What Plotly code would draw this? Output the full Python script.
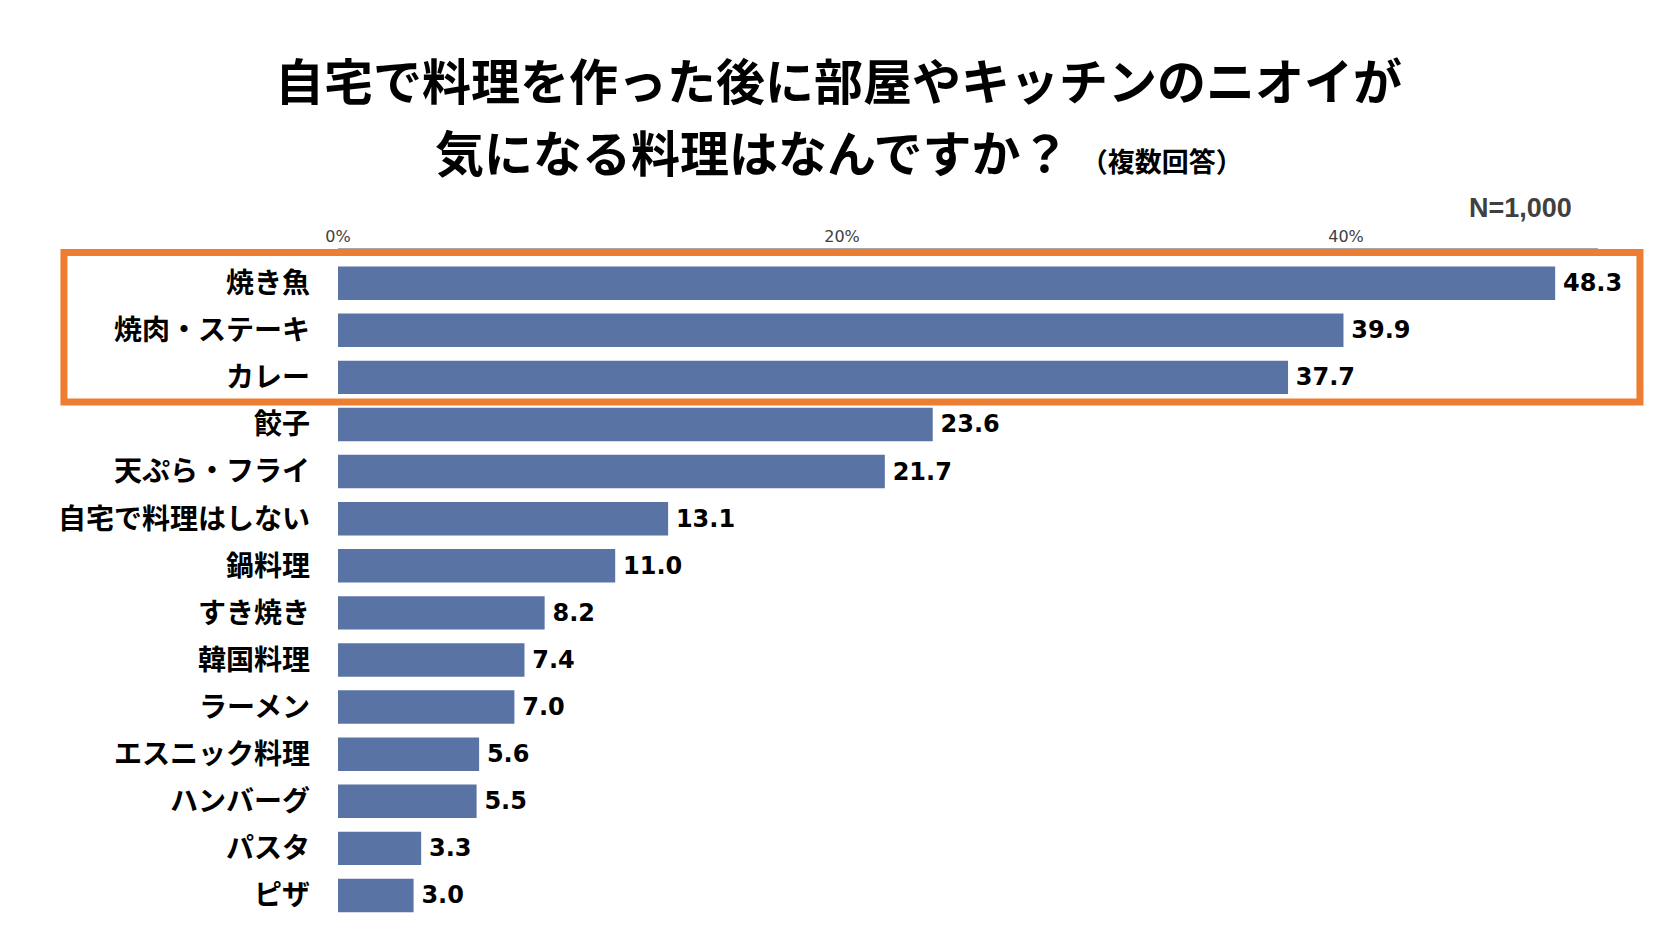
import plotly.graph_objects as go

# survey data (N=1,000, multiple answers allowed)
categories = [
    "焼き魚", "焼肉・ステーキ", "カレー", "餃子", "天ぷら・フライ",
    "自宅で料理はしない", "鍋料理", "すき焼き", "韓国料理", "ラーメン",
    "エスニック料理", "ハンバーグ", "パスタ", "ピザ",
]
values = [48.3, 39.9, 37.7, 23.6, 21.7, 13.1, 11.0, 8.2, 7.4, 7.0, 5.6, 5.5, 3.3, 3.0]
tick_vals = [0, 20, 40]
tick_text = ["0%", "20%", "40%"]

JP = "Noto Sans CJK JP"
BAR = "#5A73A5"
ORANGE = "#ED7D31"

fig = go.Figure(go.Bar(
    x=values, y=categories, orientation="h",
    marker=dict(color=BAR, line=dict(width=0)),
    text=["\u2009" + f"{v:.1f}" for v in values],
    textposition="outside", cliponaxis=False, constraintext="none",
    textfont=dict(family="DejaVu Sans", size=24, color="#000000", weight="bold"),
    hoverinfo="skip",
))

fig.update_layout(
    width=1655, height=929,
    margin=dict(l=330, r=65, t=241, b=18),
    paper_bgcolor="white", plot_bgcolor="white",
    bargap=0.29, showlegend=False,
    xaxis=dict(
        side="top", range=[0, 50], tickvals=tick_vals, ticktext=tick_text,
        showgrid=False, zeroline=False, showline=True, linecolor="#A6A6A6", linewidth=1,
        ticks="inside", ticklen=5, tickcolor="#A6A6A6", ticklabelstandoff=0,
        tickfont=dict(family="DejaVu Sans", size=16, color="#404040"),
    ),
    yaxis=dict(
        autorange="reversed", showgrid=False, zeroline=False, showline=False,
        ticks="", ticklabelstandoff=27,
        tickfont=dict(family=JP, size=28, color="#000000", weight="bold"),
    ),
)

# highlight box round the top three answers
fig.add_shape(
    type="rect", xref="paper", yref="y",
    x0=-0.2175, x1=1.0333, y0=-0.652, y1=2.52,
    line=dict(color=ORANGE, width=7), fillcolor="rgba(0,0,0,0)", layer="above",
)

# title in two separate lines
fig.add_annotation(
    text="<b>自宅で料理を作った後に部屋やキッチンのニオイが</b>",
    xref="paper", yref="paper", x=0.3976, y=1.2543, showarrow=False,
    xanchor="center", yanchor="middle",
    font=dict(family=JP, size=49, color="#000000"),
)
fig.add_annotation(
    text="<b>気になる料理はなんですか？ <span style='font-size:27px'>（複数回答）</span></b>",
    xref="paper", yref="paper", x=0.3976, y=1.1469, showarrow=False,
    xanchor="center", yanchor="middle",
    font=dict(family=JP, size=49, color="#000000"),
)
fig.add_annotation(
    text="<b>N=1,000</b>",
    xref="paper", yref="paper", x=0.981, y=1.061, showarrow=False,
    xanchor="right", yanchor="middle",
    font=dict(family="Liberation Sans", size=27, color="#404040"),
)

fig.write_html("out.html")
